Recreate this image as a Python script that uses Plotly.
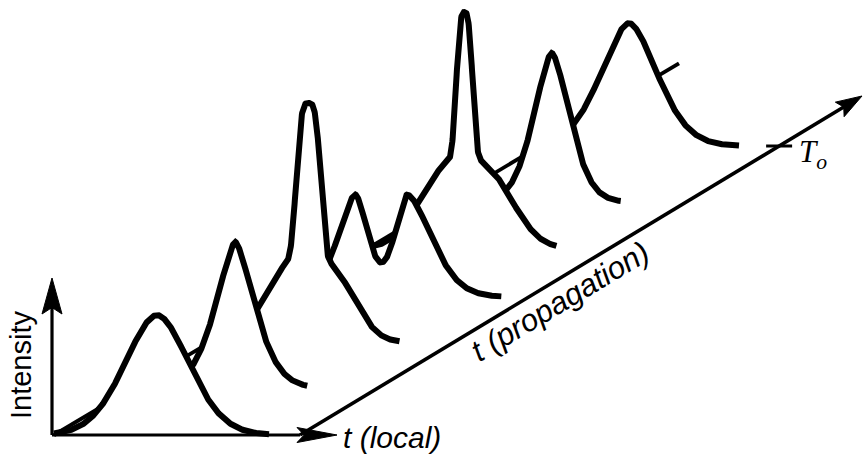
import numpy as np
import plotly.graph_objects as go

# Snapshot positions along the propagation axis (units of T_o)
z_snap = [0.0, 0.163, 0.322, 0.478, 0.647, 0.806, 1.0]
# Local-time extent traced for each snapshot
tau_end = [215, 174, 189, 215, 188, 175, 199]

# Intensity components: snapshot index, centre, peak, left/right width, shape order
comp_snap = [0, 1, 2, 2, 3, 3, 4, 4, 5, 6]
comp_centre = [103, 102, 98, 98, 69, 121, 97, 96, 106, 89]
comp_peak = [120, 146, 86, 153, 102, 102, 90, 146, 149, 123]
comp_wleft = [46, 28.4, 52, 13.75, 25.5, 18.5, 55, 9.5, 26, 40.6]
comp_wright = [46, 28.4, 52, 13.75, 18.5, 35, 55, 9.5, 26, 40.6]
comp_order = [1.84, 1.55, 2.8, 3.5, 1.7, 1.7, 2.64, 3.0, 1.65, 1.75]

z_marker = 1.0        # T_o
z_guide_end = 1.286   # extent of the tau = 0 guide line

# oblique projection: screen offset per unit of propagation distance
STEP = np.array([486.0, 289.0])
LOCAL_LEN = 246.0                      # local-time axis up to the propagation axis
PROP_START = np.array([LOCAL_LEN, 0.0])
PROP_TIP = np.array([808.0, 339.0])

INK = "black"


def intensity(k, tau):
    out = np.zeros_like(tau)
    for s, c, a, wl, wr, p in zip(comp_snap, comp_centre, comp_peak,
                                  comp_wleft, comp_wright, comp_order):
        if s != k:
            continue
        u = tau - c
        w = np.where(u < 0, wl, wr)
        out += a * np.exp(-(np.abs(u) / w) ** p)
    return out


def arrow_head(tip, direction, length, half):
    d = np.asarray(direction, float)
    d = d / np.hypot(*d)
    n = np.array([-d[1], d[0]])
    tip = np.asarray(tip, float)
    base = tip - d * length
    notch = tip - d * length * 0.82
    pts = [tip, base + n * half, notch, base - n * half, tip]
    return [p[0] for p in pts], [p[1] for p in pts]


fig = go.Figure()


def add_line(x, y, width):
    fig.add_trace(go.Scatter(x=x, y=y, mode="lines",
                             line=dict(color=INK, width=width),
                             hoverinfo="skip"))


def add_head(x, y):
    fig.add_trace(go.Scatter(x=x, y=y, mode="lines", fill="toself",
                             fillcolor=INK, line=dict(color=INK, width=1),
                             hoverinfo="skip"))


# tau = 0 guide running through the start of every snapshot
g0 = np.zeros(2)
g1 = STEP * z_guide_end
add_line([g0[0], g1[0]], [g0[1], g1[1]], 3.8)

# snapshots, back to front so nearer pulses hide the ones behind
for k in reversed(range(len(z_snap))):
    ox, oy = STEP * z_snap[k]
    tau = np.linspace(0, tau_end[k], 700)
    inten = intensity(k, tau)
    xs = ox + tau
    ys = oy + inten
    fig.add_trace(go.Scatter(
        x=np.concatenate([xs, [xs[-1], xs[0]]]),
        y=np.concatenate([ys, [oy, oy]]),
        mode="lines", fill="toself", fillcolor="white",
        line=dict(color="white", width=0), hoverinfo="skip"))
    add_line(xs, ys, 6)

# intensity axis
add_line([-2, -2], [0, 130], 3.2)
hx, hy = arrow_head((-2, 157), (0, 1), 36, 10)
add_head(hx, hy)

# local-time axis
add_line([-2, LOCAL_LEN], [0, 0], 3.2)
hx, hy = arrow_head((283, 0), (1, 0), 40, 7.5)
add_head(hx, hy)

# propagation axis
add_line([PROP_START[0], PROP_TIP[0] - 10], [PROP_START[1], PROP_TIP[1] - 6], 3.6)
hx, hy = arrow_head(PROP_TIP, PROP_TIP - PROP_START, 26, 8.5)
add_head(hx, hy)

# T_o tick on the propagation axis
ty = STEP[1] * z_marker
tx = PROP_START[0] + (ty - PROP_START[1]) * (PROP_TIP[0] - PROP_START[0]) / (PROP_TIP[1] - PROP_START[1])
add_line([tx - 13, tx + 13], [ty, ty], 3)

SANS = "Liberation Sans, Arial, Helvetica, sans-serif"
SERIF = "Liberation Serif, Times New Roman, serif"
ang = -np.degrees(np.arctan2(PROP_TIP[1] - PROP_START[1], PROP_TIP[0] - PROP_START[0]))

annotations = [
    dict(x=-33, y=70, text="Intensity", textangle=-90,
         font=dict(family=SANS, size=29, color=INK)),
    dict(x=287, y=-2, text="<i>t (local)</i>", xanchor="left", yanchor="middle",
         font=dict(family=SANS, size=30, color=INK)),
    dict(x=506, y=134, text="<i>t (propagation)</i>", textangle=ang,
         font=dict(family=SANS, size=31, color=INK)),
    dict(x=tx + 18, y=ty - 8, text="<i>T<sub>o</sub></i>", xanchor="left", yanchor="middle",
         font=dict(family=SERIF, size=31, color=INK)),
]
for a in annotations:
    a.update(xref="x", yref="y", showarrow=False)

fig.update_layout(
    width=863, height=454,
    margin=dict(l=0, r=0, t=0, b=0),
    paper_bgcolor="white", plot_bgcolor="white",
    showlegend=False,
    xaxis=dict(range=[-54, 809], visible=False, fixedrange=True),
    yaxis=dict(range=[-19, 435], visible=False, fixedrange=True),
    annotations=annotations,
)

fig.write_html("out.html")
